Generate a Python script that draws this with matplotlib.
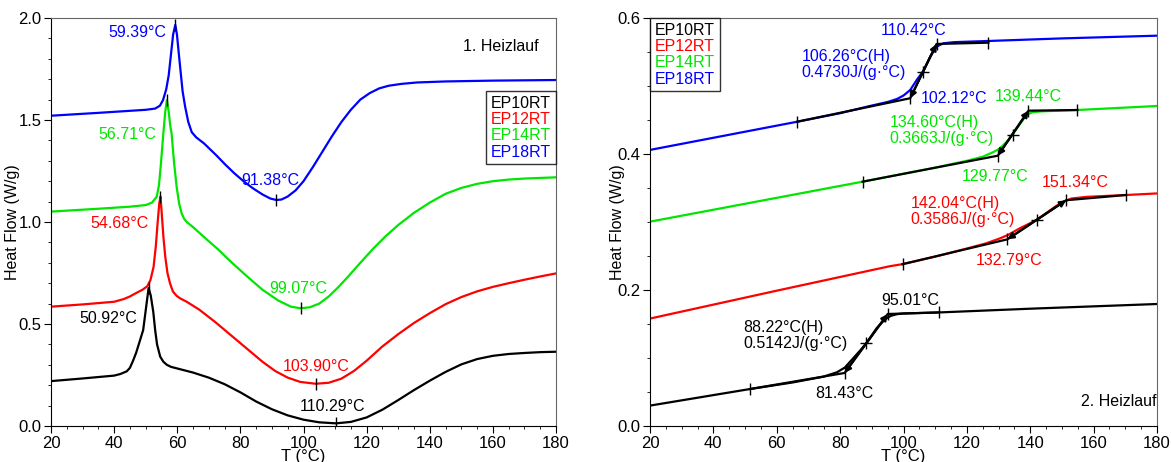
import matplotlib
matplotlib.use('Agg')
import matplotlib.pyplot as plt
from matplotlib.lines import Line2D
from matplotlib.ticker import MultipleLocator, FormatStrFormatter

plt.rcParams['font.family'] = ['Liberation Sans', 'DejaVu Sans']

names = ['EP10RT', 'EP12RT', 'EP14RT', 'EP18RT']
colors = ['black', '#ff0000', '#00e600', '#0000ff']

# ---- 1. Heizlauf (left) ----
h1_x_10 = [20, 30, 40, 42, 44, 45, 46, 47, 48, 49.2, 50.2, 50.92, 51.6, 52.4, 53.0, 53.6, 54.6,
           55.6, 56.7, 58, 60, 65, 70, 75, 80, 85, 90, 95, 100, 105, 110.29, 115, 120, 125, 130,
           135, 140, 145, 150, 155, 160, 165, 170, 175, 180]
h1_y_10 = [0.22, 0.233, 0.247, 0.255, 0.268, 0.285, 0.32, 0.36, 0.41, 0.47, 0.59, 0.676, 0.64,
           0.56, 0.47, 0.40, 0.34, 0.315, 0.30, 0.29, 0.282, 0.262, 0.237, 0.205, 0.165, 0.12,
           0.082, 0.052, 0.031, 0.018, 0.013, 0.02, 0.042, 0.08, 0.127, 0.176, 0.222, 0.265,
           0.302, 0.328, 0.344, 0.353, 0.358, 0.362, 0.364]

h1_x_12 = [20, 30, 40, 43, 45, 47, 49, 50.5, 51.5, 52.5, 53.2, 53.8, 54.3, 54.68, 55.1, 55.6,
           56.2, 56.9, 57.7, 58.6, 59.8, 61, 63, 67, 72, 77, 82, 87, 91, 95, 99, 103.9, 108, 112,
           116, 120, 125, 130, 135, 140, 145, 150, 155, 160, 165, 170, 175, 180]
h1_y_12 = [0.585, 0.596, 0.609, 0.622, 0.635, 0.652, 0.668, 0.685, 0.715, 0.78, 0.88, 1.0, 1.09,
           1.124, 1.04, 0.93, 0.83, 0.75, 0.70, 0.66, 0.638, 0.625, 0.609, 0.57, 0.51, 0.445,
           0.38, 0.315, 0.27, 0.237, 0.216, 0.207, 0.212, 0.232, 0.27, 0.32, 0.39, 0.45, 0.505,
           0.553, 0.597, 0.632, 0.66, 0.682, 0.70, 0.717, 0.733, 0.748]

h1_x_14 = [20, 35, 45, 50, 52, 53.5, 54.2, 54.8, 55.6, 56.2, 56.71, 57.3, 57.8, 58.2, 59, 59.8,
           60.6, 61.4, 62.2, 63, 65, 69.3, 73, 77, 82, 87, 92, 96, 99.07, 102, 105, 108, 111,
           114, 118, 122, 126, 130, 135, 140, 145, 150, 155, 160, 165, 170, 180]
h1_y_14 = [1.051, 1.065, 1.075, 1.083, 1.095, 1.124, 1.18, 1.28, 1.435, 1.54, 1.598, 1.54, 1.47,
           1.435, 1.29, 1.173, 1.09, 1.042, 1.015, 1.0, 0.975, 0.915, 0.865, 0.805, 0.735, 0.668,
           0.615, 0.585, 0.577, 0.582, 0.60, 0.635, 0.68, 0.73, 0.80, 0.868, 0.93, 0.985, 1.045,
           1.095, 1.138, 1.167, 1.187, 1.20, 1.208, 1.213, 1.219]

h1_x_18 = [20, 35, 50, 53, 54.5, 55.5, 56.5, 57.3, 58, 58.7, 59.39, 59.9, 60.4, 60.9, 61.7, 62.5,
           63.5, 64.6, 66, 68.5, 70.5, 72.5, 75, 78, 81, 84, 87, 89.5, 91.38, 93, 95, 97.5, 100,
           103, 106, 109, 112, 115, 118, 121, 124, 127, 131, 136, 145, 160, 180]
h1_y_18 = [1.521, 1.535, 1.55, 1.556, 1.57, 1.598, 1.65, 1.72, 1.82, 1.92, 1.966, 1.92, 1.84,
           1.762, 1.64, 1.565, 1.49, 1.44, 1.415, 1.385, 1.355, 1.325, 1.285, 1.24, 1.20, 1.165,
           1.135, 1.115, 1.108, 1.11, 1.125, 1.155, 1.20, 1.27, 1.345, 1.42, 1.49, 1.55, 1.60,
           1.632, 1.655, 1.668, 1.677, 1.684, 1.689, 1.693, 1.696]

peak_t = [50.92, 54.68, 56.71, 59.39]
peak_y = [0.676, 1.124, 1.598, 1.966]
min_t = [110.29, 103.90, 99.07, 91.38]
min_y = [0.013, 0.207, 0.577, 1.108]

# ---- 2. Heizlauf (right) ----
h2_x_10 = [20, 51.6, 65, 74.7, 79, 81.5, 84.2, 86.5, 88.4, 91.5, 94.2, 96, 98, 100, 111.2, 140, 180]
h2_y_10 = [0.030, 0.0544, 0.064, 0.0725, 0.079, 0.086, 0.100, 0.112, 0.1225, 0.1437, 0.157, 0.162,
           0.1645, 0.1655, 0.167, 0.1725, 0.1794]
h2_x_12 = [20, 60, 95.7, 99.7, 110, 120, 126, 130.5, 133, 136.8, 139, 142, 145, 148, 150.5, 153,
           157.8, 170.2, 180]
h2_y_12 = [0.158, 0.199, 0.235, 0.238, 0.249, 0.261, 0.2685, 0.276, 0.281, 0.291, 0.296, 0.303,
           0.313, 0.323, 0.330, 0.3345, 0.337, 0.3397, 0.342]
h2_x_14 = [20, 87.1, 100, 110, 120, 125, 128, 130, 131.5, 133, 134.3, 136, 138, 139.4, 141, 144,
           154.9, 180]
h2_y_14 = [0.3005, 0.3593, 0.371, 0.380, 0.390, 0.396, 0.402, 0.407, 0.413, 0.420, 0.428, 0.439,
           0.452, 0.459, 0.4618, 0.4628, 0.4647, 0.4706]
h2_x_18 = [20, 66.5, 80, 89.4, 95, 98, 100, 102.1, 104.2, 106.3, 108.4, 110.5, 112.6, 116, 126.8,
           150, 180]
h2_y_18 = [0.406, 0.4475, 0.460, 0.4706, 0.4765, 0.481, 0.486, 0.494, 0.509, 0.5225, 0.543, 0.558,
           0.5628, 0.5645, 0.5662, 0.570, 0.574]

# tangent construction: [baseline start, onset, end, post-baseline]
tan_x_10 = [51.6, 81.43, 95.01, 111.2]
tan_y_10 = [0.0544, 0.078, 0.1647, 0.167]
tan_x_12 = [99.7, 132.79, 151.34, 170.2]
tan_y_12 = [0.238, 0.2745, 0.332, 0.3397]
tan_x_14 = [87.1, 129.77, 139.44, 154.9]
tan_y_14 = [0.3593, 0.3975, 0.4637, 0.4647]
tan_x_18 = [66.5, 102.12, 110.42, 126.8]
tan_y_18 = [0.4475, 0.482, 0.5618, 0.5637]
mid_t = [88.22, 142.04, 134.60, 106.26]
mid_y = [0.1225, 0.303, 0.428, 0.521]
cp = ['0.5142', '0.3586', '0.3663', '0.4730']

fig = plt.figure(figsize=(11.71, 4.62), dpi=100)
ax1 = fig.add_axes([51/1171, 36/462, 505/1171, 408/462])
ax2 = fig.add_axes([650/1171, 36/462, 507/1171, 408/462])

fs = 11.5

for ax in (ax1, ax2):
    ax.set_xlim(20, 180)
    ax.xaxis.set_major_locator(MultipleLocator(20))
    ax.xaxis.set_minor_locator(MultipleLocator(5))
    ax.tick_params(which='both', direction='out', top=False, right=False, labelsize=12, pad=2)
    ax.tick_params(which='major', length=5)
    ax.tick_params(which='minor', length=2.5)
    ax.spines['top'].set_color('#666666')
    ax.spines['right'].set_color('#666666')
    ax.set_xlabel('T (°C)', fontsize=12, labelpad=-1)
    ax.set_ylabel('Heat Flow (W/g)', fontsize=11.5)
    ax.yaxis.set_major_formatter(FormatStrFormatter('%.1f'))
ax1.yaxis.set_label_coords(-0.062, 0.5)
ax2.yaxis.set_label_coords(-0.05, 0.5)

# left panel
ax1.set_ylim(0, 2.0)
ax1.yaxis.set_major_locator(MultipleLocator(0.5))
ax1.yaxis.set_minor_locator(MultipleLocator(0.1))
h1_x = [h1_x_10, h1_x_12, h1_x_14, h1_x_18]
h1_y = [h1_y_10, h1_y_12, h1_y_14, h1_y_18]
for xs, ys, c in zip(h1_x, h1_y, colors):
    ax1.plot(xs, ys, color=c, lw=1.6)
ax1.plot(peak_t, peak_y, ls='none', marker='|', ms=9, mew=1, color='black')
ax1.plot(min_t, min_y, ls='none', marker='|', ms=9, mew=1, color='black')

# peak labels (right aligned, left of peaks)
peak_lab_x = [47.2, 51.0, 53.3, 56.4]
peak_lab_y = [0.529, 0.995, 1.431, 1.93]
for t, lx, ly, c in zip(peak_t, peak_lab_x, peak_lab_y, colors):
    ax1.text(lx, ly, '%.2f°C' % t, color=c, ha='right', va='center', fontsize=fs)
min_lab_x = [109.3, 103.9, 98.2, 89.5]
min_lab_y = [0.095, 0.294, 0.675, 1.203]
for t, lx, ly, c in zip(min_t, min_lab_x, min_lab_y, colors):
    ax1.text(lx, ly, '%.2f°C' % t, color=c, ha='center', va='center', fontsize=fs)
ax1.text(174.6, 1.86, '1. Heizlauf', ha='right', va='center', fontsize=fs)

handles = [Line2D([], [], lw=0) for _ in names]
leg1 = ax1.legend(handles, names, loc='upper right', bbox_to_anchor=(1.0, 0.821),
                  handlelength=0, handletextpad=0, labelspacing=0.08, borderpad=0.3,
                  borderaxespad=0, fancybox=False, edgecolor='black', fontsize=fs)
leg1.get_frame().set_linewidth(1.0)
for txt, c in zip(leg1.get_texts(), colors):
    txt.set_color(c)

# right panel
ax2.set_ylim(0, 0.6)
ax2.yaxis.set_major_locator(MultipleLocator(0.2))
ax2.yaxis.set_minor_locator(MultipleLocator(0.05))
h2_x = [h2_x_10, h2_x_12, h2_x_14, h2_x_18]
h2_y = [h2_y_10, h2_y_12, h2_y_14, h2_y_18]
tan_x = [tan_x_10, tan_x_12, tan_x_14, tan_x_18]
tan_y = [tan_y_10, tan_y_12, tan_y_14, tan_y_18]
for xs, ys, c in zip(h2_x, h2_y, colors):
    ax2.plot(xs, ys, color=c, lw=1.6)
for tx, ty in zip(tan_x, tan_y):
    ax2.plot(tx, ty, color='black', lw=1.6)
    ax2.plot(tx, ty, ls='none', marker='|', ms=9, mew=1, color='black')
    ax2.annotate('', xy=(tx[2], ty[2]), xytext=(tx[1], ty[1]),
                 arrowprops=dict(arrowstyle='<|-|>', color='black', lw=1.6,
                                 shrinkA=0, shrinkB=0, mutation_scale=9))
ax2.plot(mid_t, mid_y, ls='none', marker='+', ms=9, mew=1, color='black')

# onset / end / midpoint labels
on_lab = [(81.3, 0.048, 'center'), (133.3, 0.244, 'center'), (128.9, 0.3676, 'center'), (105.4, 0.481, 'left')]
end_lab = [(102.1, 0.184), (154.1, 0.358), (139.3, 0.484), (103.3, 0.581)]
mid_lab = [(49.5, 0.133), (102.3, 0.316), (95.7, 0.435), (67.9, 0.532)]
for i, c in enumerate(colors):
    lx, ly, ha = on_lab[i]
    ax2.text(lx, ly, '%.2f°C' % tan_x[i][1], color=c, ha=ha, va='center', fontsize=fs)
    ax2.text(end_lab[i][0], end_lab[i][1], '%.2f°C' % tan_x[i][2], color=c, ha='center',
             va='center', fontsize=fs)
    ax2.text(mid_lab[i][0], mid_lab[i][1], '%.2f°C(H)\n%sJ/(g·°C)' % (mid_t[i], cp[i]), color=c,
             ha='left', va='center', fontsize=fs, linespacing=1.1)
ax2.text(179.8, 0.036, '2. Heizlauf', ha='right', va='center', fontsize=fs)

leg2 = ax2.legend(handles, names, loc='upper left', bbox_to_anchor=(0.0, 1.0),
                  handlelength=0, handletextpad=0, labelspacing=0.08, borderpad=0.3,
                  borderaxespad=0, fancybox=False, edgecolor='black', fontsize=fs)
leg2.get_frame().set_linewidth(1.0)
for txt, c in zip(leg2.get_texts(), colors):
    txt.set_color(c)

fig.savefig('out.png', dpi=100)
